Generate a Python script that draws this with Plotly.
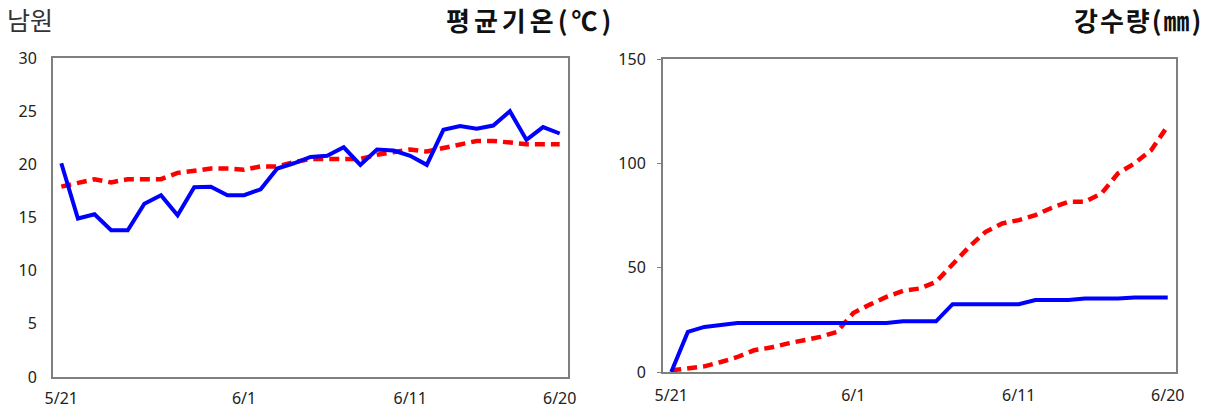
import plotly.graph_objects as go

# ---- data ----
dates = ["5/21", "5/22", "5/23", "5/24", "5/25", "5/26", "5/27", "5/28", "5/29", "5/30", "5/31",
         "6/1", "6/2", "6/3", "6/4", "6/5", "6/6", "6/7", "6/8", "6/9", "6/10",
         "6/11", "6/12", "6/13", "6/14", "6/15", "6/16", "6/17", "6/18", "6/19", "6/20"]
tick_labels = ["5/21", "6/1", "6/11", "6/20"]

temp_this_year = [20.1, 14.9, 15.3, 13.8, 13.8, 16.3, 17.1, 15.2, 17.85, 17.9, 17.1,
                  17.1, 17.65, 19.6, 20.1, 20.7, 20.8, 21.6, 19.95, 21.4, 21.3,
                  20.8, 19.95, 23.25, 23.6, 23.35, 23.65, 25.0, 22.3, 23.5, 22.9]
temp_normal = [17.9, 18.2, 18.6, 18.3, 18.6, 18.6, 18.6, 19.2, 19.4, 19.6, 19.6,
               19.5, 19.8, 19.8, 20.2, 20.5, 20.5, 20.5, 20.5, 20.9, 21.2,
               21.4, 21.2, 21.5, 21.9, 22.2, 22.2, 22.0, 21.9, 21.9, 21.9]

rain_this_year = [0, 19.2, 21.6, 22.4, 23.5, 23.5, 23.5, 23.5, 23.5, 23.5, 23.5,
                  23.5, 23.5, 23.5, 24.3, 24.3, 24.3, 32.5, 32.5, 32.5, 32.5,
                  32.5, 34.5, 34.5, 34.5, 35.2, 35.2, 35.2, 35.7, 35.7, 35.7]
rain_normal = [0.8, 1.6, 2.7, 4.8, 7.2, 10.4, 11.7, 13.6, 15.2, 16.8, 19.2,
               28.3, 32.3, 36.0, 38.9, 40.0, 43.2, 52.0, 60.0, 67.2, 71.2,
               72.8, 75.2, 78.7, 81.6, 81.6, 85.6, 95.2, 100.0, 106.3, 117.9]

region = "남원"
title_temp = "평균기온(℃)"
title_rain = "강수량(㎜)"

# ---- styling ----
W, H = 1213, 411
FONT = "Noto Sans CJK KR"
TICKFONT = "Noto Sans"
BLUE = "#0000FF"
RED = "#FF0000"
AXIS = "#7f7f7f"

def px_x(p):
    return p / W

def px_y(p):
    return 1 - p / H

fig = go.Figure()

fig.add_trace(go.Scatter(x=dates, y=temp_normal, mode="lines", name="평년",
                         line=dict(color=RED, width=4.5, dash="10px,6px"),
                         xaxis="x", yaxis="y"))
fig.add_trace(go.Scatter(x=dates, y=temp_this_year, mode="lines", name="금년",
                         line=dict(color=BLUE, width=4), xaxis="x", yaxis="y"))
fig.add_trace(go.Scatter(x=dates, y=rain_normal, mode="lines", name="평년",
                         line=dict(color=RED, width=4.5, dash="10px,6px"),
                         xaxis="x2", yaxis="y2"))
fig.add_trace(go.Scatter(x=dates, y=rain_this_year, mode="lines", name="금년",
                         line=dict(color=BLUE, width=4), xaxis="x2", yaxis="y2"))

common_x = dict(type="category", range=[-0.5, 30.5], tickmode="array",
                tickvals=tick_labels, ticktext=tick_labels, showgrid=False,
                zeroline=False, showline=True, linecolor=AXIS, linewidth=2,
                mirror=True, ticks="outside", ticklen=6, tickcolor="rgba(0,0,0,0)",
                automargin=False,
                tickfont=dict(family=TICKFONT, size=16, color="#222"))
common_y = dict(showgrid=False, zeroline=False, showline=True, linecolor=AXIS,
                linewidth=2, mirror=True, automargin=False,
                tickfont=dict(family=TICKFONT, size=16, color="#222"))

fig.update_layout(
    width=W, height=H,
    margin=dict(l=0, r=0, t=0, b=0, autoexpand=False),
    paper_bgcolor="white", plot_bgcolor="white",
    showlegend=False,
    xaxis=dict(common_x, domain=[px_x(53), px_x(568)], anchor="y"),
    yaxis=dict(common_y, domain=[px_y(377), px_y(58)], range=[0, 30],
               tickvals=[0, 5, 10, 15, 20, 25, 30], anchor="x",
               ticks="outside", ticklen=11, tickcolor="rgba(0,0,0,0)"),
    xaxis2=dict(common_x, domain=[px_x(663), px_x(1176)], anchor="y2", ticklen=8),
    yaxis2=dict(common_y, domain=[px_y(372), px_y(59)], range=[0, 150],
                tickvals=[0, 50, 100, 150], anchor="x2",
                ticks="outside", ticklen=4, tickcolor=AXIS, ticklabelstandoff=8),
    annotations=[
        dict(text=region, xref="paper", yref="paper", x=px_x(5), y=px_y(19),
             xanchor="left", yanchor="middle", showarrow=False,
             font=dict(family=FONT, size=25, color="#333")),
        dict(text="<b><span style='letter-spacing:4px'>" + title_temp + "</span></b>",
             xref="paper", yref="paper",
             x=px_x(617), y=px_y(19), xanchor="right", yanchor="middle",
             showarrow=False, font=dict(family=FONT, size=26, color="#111")),
        dict(text="<b><span style='letter-spacing:2px'>" + title_rain + "</span></b>",
             xref="paper", yref="paper",
             x=px_x(1205), y=px_y(19), xanchor="right", yanchor="middle",
             showarrow=False, font=dict(family=FONT, size=26, color="#111")),
    ],
)

# the page's default body margin would shift the figure; remove it
fig.write_html("out.html", config={"displayModeBar": False},
               post_script="document.body.style.margin='0px';")
